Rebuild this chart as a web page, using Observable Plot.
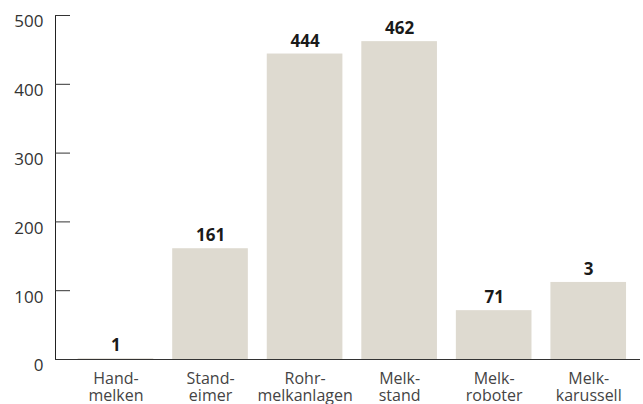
<!DOCTYPE html>
<html>
<head>
<meta charset="utf-8">
<script src="https://cdn.jsdelivr.net/npm/d3@7"></script>
<script src="https://cdn.jsdelivr.net/npm/@observablehq/plot@0.6"></script>
<style>
  html, body { margin: 0; padding: 0; background: #fff; }
  svg { display: block; }
</style>
</head>
<body>
<div id="chart"></div>
<script>
const categories = ["Hand-\nmelken", "Stand-\neimer", "Rohr-\nmelkanlagen", "Melk-\nstand", "Melk-\nroboter", "Melk-\nkarussell"];
const barValues = [1, 161, 444, 462, 71, 112];
const valueLabels = ["1", "161", "444", "462", "71", "3"];
const yTicks = [0, 100, 200, 300, 400, 500];

const data = categories.map((c, i) => ({cat: c, value: barValues[i], label: valueLabels[i]}));

const chart = Plot.plot({
  width: 643,
  height: 404,
  marginLeft: 55,
  marginRight: 3,
  marginTop: 15,
  marginBottom: 45,
  style: {fontFamily: "'Open Sans', sans-serif", fontSize: "17px", color: "#333", background: "#fff"},
  x: {domain: categories, range: [68.2, 635.5], paddingInner: 0.2, paddingOuter: 0.1, round: false, label: null},
  y: {domain: [0, 500], label: null},
  marks: [
    Plot.ruleY([0], {stroke: "#333", strokeWidth: 1}),
    Plot.barY(data, {x: "cat", y: "value", fill: "#dedad0"}),
    Plot.frame({anchor: "left", stroke: "#222"}),
    Plot.axisY(yTicks, {tickSize: -15, tickFormat: () => "", stroke: "#333", label: null}),
    Plot.text(yTicks, {y: (d) => d, text: (d) => String(d), frameAnchor: "left", textAnchor: "end", dx: -12, dy: 6.5, fill: "#333", fontSize: 17}),
    Plot.axisX({tickSize: 0, tickPadding: 12, fill: "#444", fontSize: 16, lineHeight: 1.07, label: null}),
    Plot.text(data, {x: "cat", y: "value", text: "label", lineAnchor: "bottom", dy: -7.5, fontWeight: "bold", fontSize: 17, fill: "#1a1a1a"})
  ]
});
document.getElementById("chart").appendChild(chart);
</script>
</body>
</html>
